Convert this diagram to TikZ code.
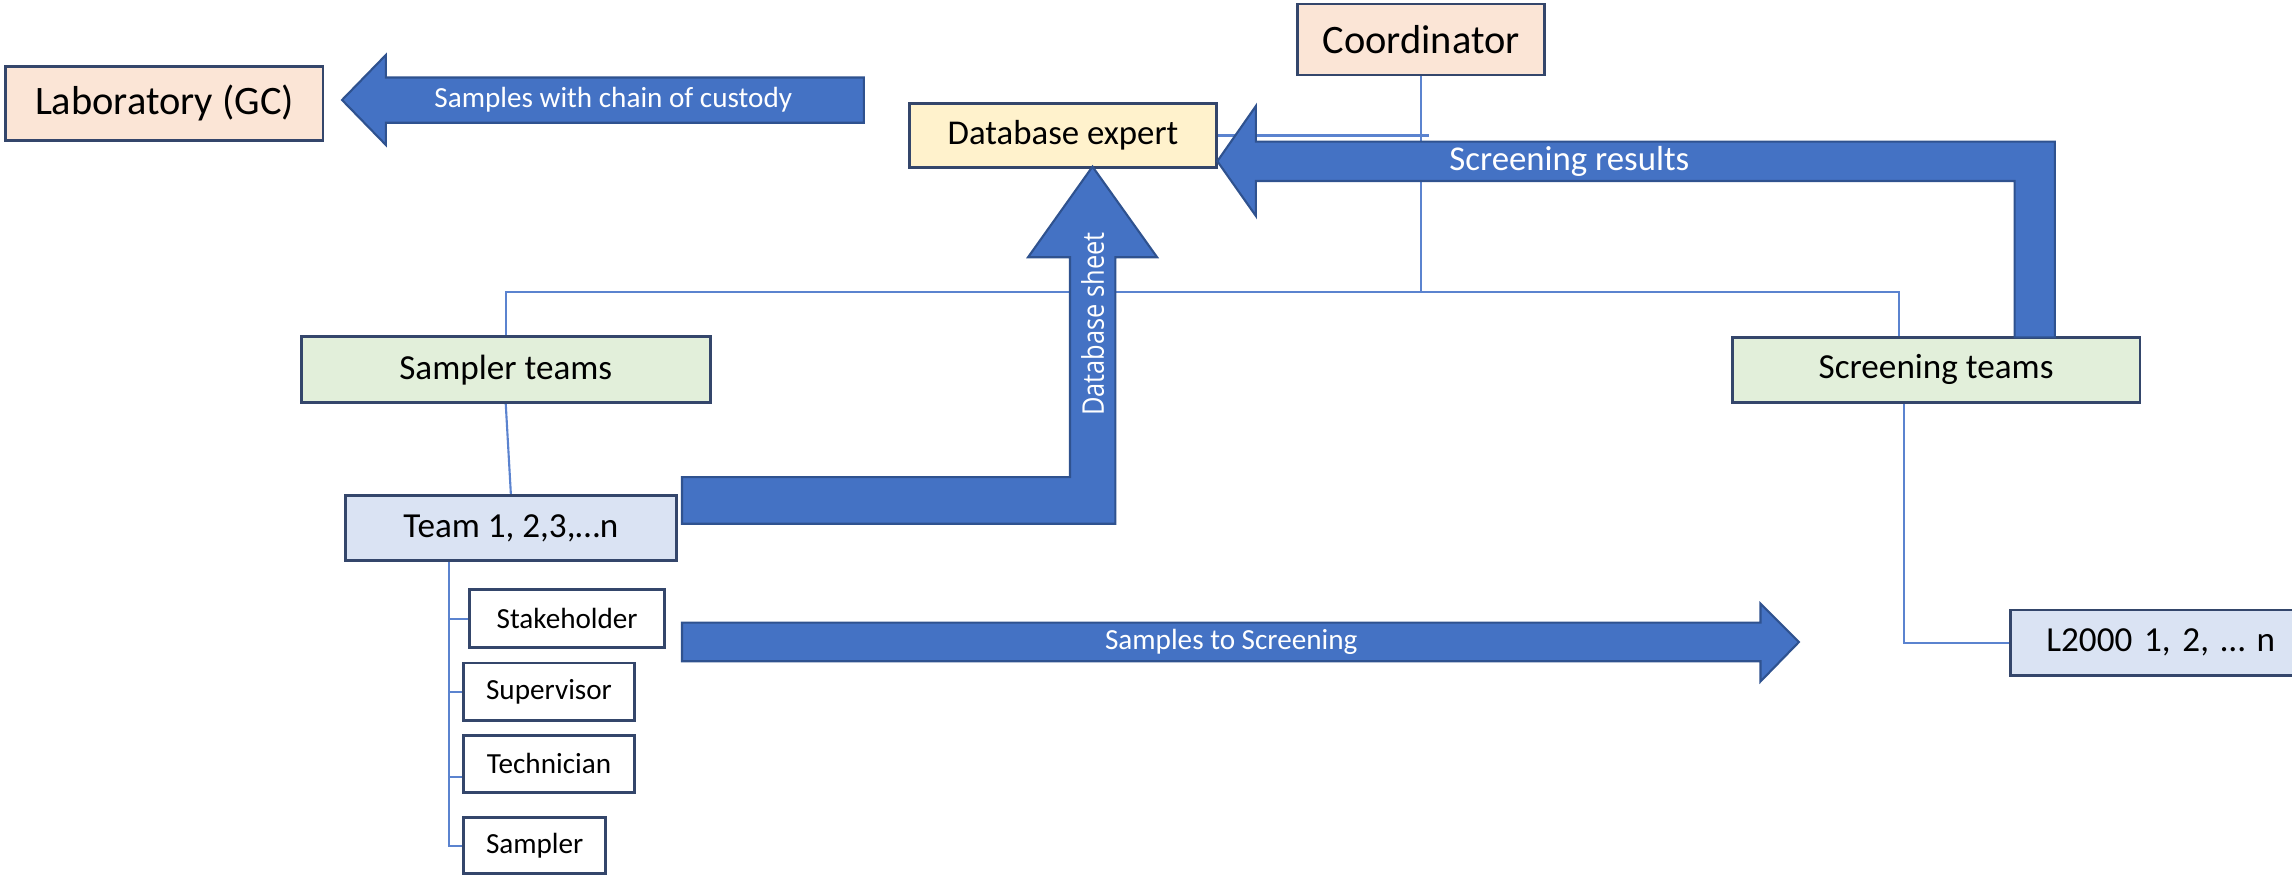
\documentclass[tikz,border=0pt]{standalone}
\usepackage{fontspec}
\setmainfont{Carlito}
\newfontfamily\sheetfont[FakeStretch=0.85]{Open Sans}
\usetikzlibrary{backgrounds,calc}
\newcommand{\pxu}{0.014617cm}
\definecolor{boxline}{HTML}{34466B}
\definecolor{peach}{HTML}{FBE5D6}
\definecolor{cream}{HTML}{FFF2CC}
\definecolor{palegreen}{HTML}{E2EFDA}
\definecolor{paleblue}{HTML}{DAE3F3}
\definecolor{arrowblue}{HTML}{4472C4}
\definecolor{arrowline}{HTML}{2F528F}
\definecolor{linkblue}{HTML}{5B83CF}
\begin{document}
\begin{tikzpicture}[x=\pxu, y=-\pxu] % y grows downwards
\tikzstyle{mybox} = [draw=boxline, line width=0.8pt, inner sep=0pt, text=black] % plain org box
\tikzstyle{topbox} = [mybox, fill=peach, font=\fontsize{11.5}{14}\selectfont] % lab and coordinator
\tikzstyle{dbbox} = [mybox, fill=cream, font=\fontsize{9.9}{12}\selectfont]
\tikzstyle{groupbox} = [mybox, fill=palegreen, font=\fontsize{10}{12}\selectfont] % team groups
\tikzstyle{unitbox} = [mybox, fill=paleblue, font=\fontsize{10}{12}\selectfont]
\tikzstyle{rolebox} = [mybox, fill=white, font=\fontsize{8.3}{10}\selectfont] % roles in a team
\tikzstyle{link} = [draw=linkblue, line width=0.6pt] % thin chart line
\tikzstyle{bigarrow} = [fill=arrowblue, draw=arrowline, line width=0.6pt, line join=miter] % block arrow
\tikzstyle{arrowtext} = [text=white, inner sep=0pt, font=\fontsize{8.3}{10}\selectfont]
\useasboundingbox (0,0) rectangle (1568,598.6);

%
\node[topbox, minimum width=217*\pxu, minimum height=50.5*\pxu] (lab) at (112.5,70.75) {Laboratory (GC)};
\node[topbox, minimum width=168.8*\pxu, minimum height=48.6*\pxu] (coord) at (972.3,27) {Coordinator};
\node[dbbox, minimum width=209.6*\pxu, minimum height=44*\pxu] (dbx) at (727.2,92.7) {Database expert};
\node[groupbox, minimum width=279.6*\pxu, minimum height=45.2*\pxu] (sampt) at (346,252.9) {Sampler teams};
\node[groupbox, minimum width=279*\pxu, minimum height=44.5*\pxu] (scrt) at (1324.5,253) {Screening teams};
\node[unitbox, minimum width=226.2*\pxu, minimum height=44.4*\pxu] (team) at (349.5,361.2) {Team 1, 2,3,…n};
\node[rolebox, minimum width=133.5*\pxu, minimum height=39.7*\pxu] (stake) at (388,423.2) {Stakeholder};
\node[rolebox, minimum width=116.7*\pxu, minimum height=39.4*\pxu] (superv) at (375.6,473.3) {Supervisor};
\node[rolebox, minimum width=116.7*\pxu, minimum height=38.9*\pxu] (techn) at (375.6,522.5) {Technician};
\node[rolebox, minimum width=97*\pxu, minimum height=38*\pxu] (sampl) at (365.8,578.5) {Sampler};
\node[unitbox, anchor=west, minimum height=44.5*\pxu, text width=200*\pxu, inner xsep=24.4*\pxu, align=left] (lsite) at (1374.6,439.6) {L2000 1, 2, … n};

% chart lines, behind everything
\coordinate (bus) at (972.3,199.5);
\coordinate (scrtop) at (1299.4,230.8);
\coordinate (scrfoot) at (1302.5,275.3);
\coordinate (stem) at (307.1,383.4);
\begin{scope}[on background layer]
\draw[link] (coord.south) -- (bus);
\draw[link] (sampt.north) |- (bus) -| (scrtop);
\draw[link] (dbx.east) -- ++(144.5,0);
\draw[link] (sampt.south) -- (team.north);
\draw[link] (stem) |- (stake.west);
\draw[link] (stem) |- (superv.west);
\draw[link] (stem) |- ($(techn.west)+(0,9)$);
\draw[link] (stem) |- (sampl.west);
\draw[link] (scrfoot) |- (lsite.west);
\end{scope}

% block arrows
\draw[bigarrow] (234,68.4) -- (264,37.6) -- (264,53) -- (591,53) -- (591,84) -- (264,84) -- (264,99.2) -- cycle;
\node[arrowtext] (custody) at (419.6,68.4) {Samples with chain of custody};
\draw[bigarrow] (832.8,110.3) -- (859.2,72.5) -- (859.2,96.9) -- (1405.8,96.9) -- (1405.8,230.8)
  -- (1378.2,230.8) -- (1378.2,123.8) -- (859.2,123.8) -- (859.2,147.8) -- cycle;
\node[arrowtext, font=\fontsize{9.9}{12}\selectfont] (results) at (1073.6,110.3) {Screening results};
\draw[bigarrow] (466.6,326.4) -- (732,326.4) -- (732,176) -- (703.3,176) -- (747.4,114) -- (791.6,176)
  -- (763,176) -- (763,358.3) -- (466.6,358.3) -- cycle;
\node[arrowtext, rotate=90, font=\sheetfont\fontsize{8.5}{10}\selectfont] (sheet) at (747.5,221.8) {Database sheet};
\draw[bigarrow] (466.6,426) -- (1204.4,426) -- (1204.4,413) -- (1230.7,439.2) -- (1204.4,466.2)
  -- (1204.4,452.4) -- (466.6,452.4) -- cycle;
\node[arrowtext] (toscr) at (842.3,439.2) {Samples to Screening};
\end{tikzpicture}
\end{document}
